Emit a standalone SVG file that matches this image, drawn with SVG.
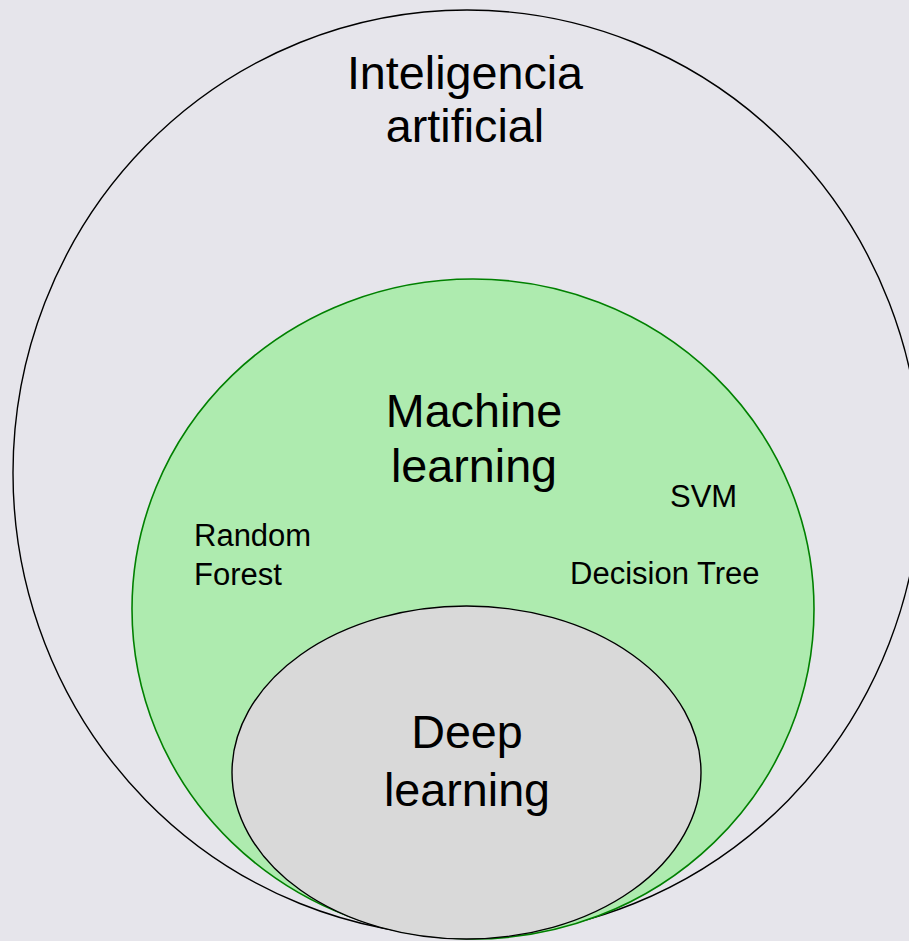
<svg xmlns="http://www.w3.org/2000/svg" width="909" height="941" viewBox="0 0 909 941">
<style>
text{font-family:"Liberation Sans",Arial,sans-serif;fill:#000}
.big{font-size:46.7px;text-anchor:middle}
.small{font-size:31px}
</style>
<rect width="909" height="941" fill="#E6E5EB"/>
<g id="ai">
<ellipse cx="467" cy="473" rx="454" ry="463" fill="none" stroke="#000" stroke-width="1.4"/>
<text class="big" x="465" y="89">Inteligencia</text>
<text class="big" x="465" y="142">artificial</text>
</g>
<g id="ml">
<ellipse cx="473" cy="609" rx="341" ry="330" fill="#AEEBAF" stroke="#008000" stroke-width="1.6"/>
<text class="big" x="474" y="427">Machine</text>
<text class="big" x="474" y="482">learning</text>
</g>
<g id="rf"><text class="small" x="194" y="546">Random</text><text class="small" x="194" y="585">Forest</text></g>
<g id="svm"><text class="small" x="670" y="507">SVM</text></g>
<g id="dt"><text class="small" x="570" y="584">Decision Tree</text></g>
<g id="dl">
<ellipse cx="466.5" cy="772.5" rx="234.5" ry="166.5" fill="#D9D9D9" stroke="#000" stroke-width="1.4"/>
<text class="big" x="467" y="748">Deep</text>
<text class="big" x="467" y="806">learning</text>
</g>
<g id="connectors"/>
</svg>
